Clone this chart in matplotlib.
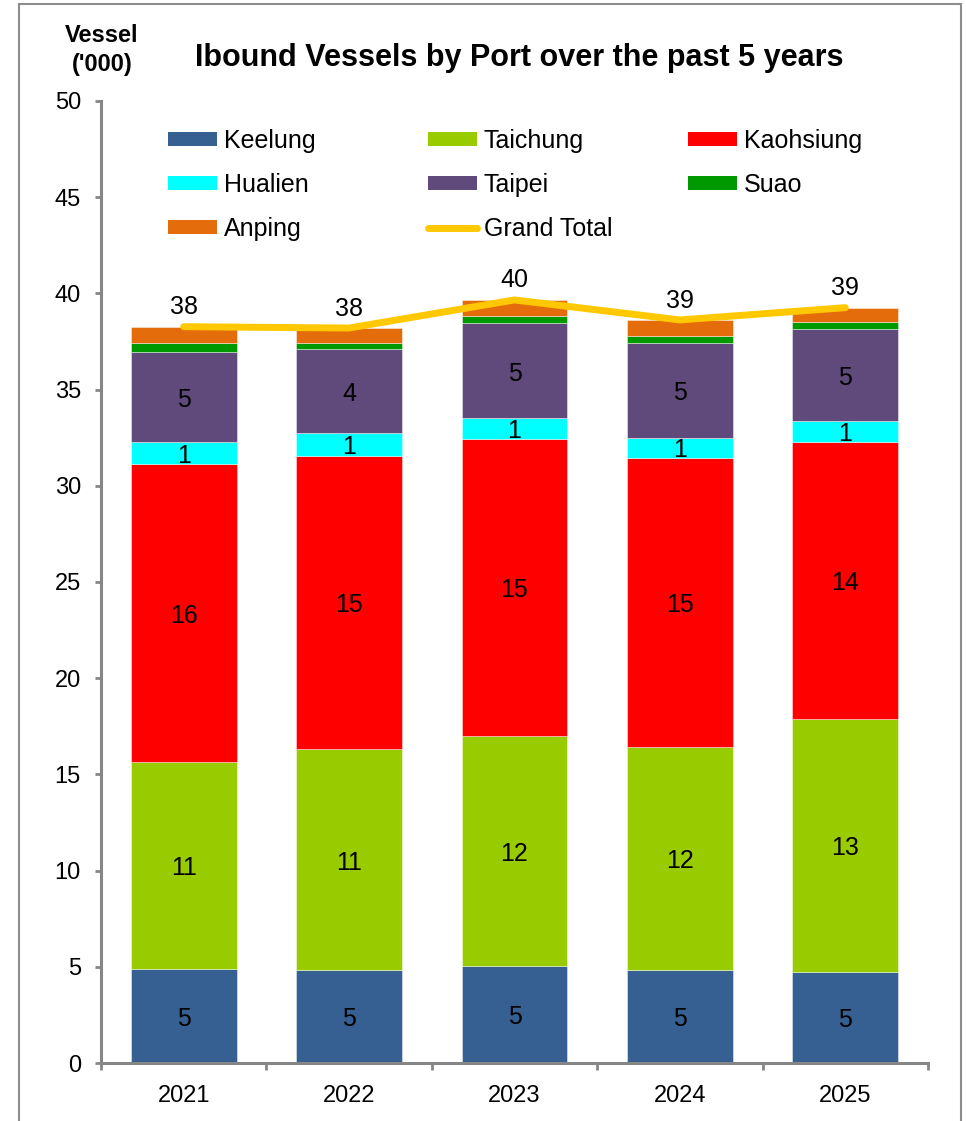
import matplotlib
matplotlib.use("Agg")
import matplotlib.pyplot as plt
from matplotlib.patches import Rectangle, Patch
from matplotlib.lines import Line2D
import numpy as np

plt.rcParams['font.family'] = ['Liberation Sans', 'DejaVu Sans']

years = ['2021', '2022', '2023', '2024', '2025']
keelung = [4.89, 4.83, 5.04, 4.85, 4.71]
taichung = [10.75, 11.47, 11.96, 11.59, 13.17]
kaohsiung = [15.51, 15.26, 15.43, 15.02, 14.41]
hualien = [1.11, 1.17, 1.08, 1.04, 1.08]
taipei = [4.71, 4.37, 4.94, 4.91, 4.78]
suao = [0.44, 0.34, 0.38, 0.38, 0.38]
anping = [0.86, 0.76, 0.83, 0.83, 0.73]
grand_total = [38.27, 38.20, 39.66, 38.62, 39.26]

series = [
    ('Keelung', keelung, '#366092', True),
    ('Taichung', taichung, '#99CC00', True),
    ('Kaohsiung', kaohsiung, '#FF0000', True),
    ('Hualien', hualien, '#00FFFF', True),
    ('Taipei', taipei, '#604A7B', True),
    ('Suao', suao, '#009900', False),
    ('Anping', anping, '#E46C0A', False),
]
line_color = '#FFC800'

W, H = 966, 1121
fig = plt.figure(figsize=(W / 100, H / 100), dpi=100)
ax = fig.add_axes([101 / W, 1 - 1063 / H, (928 - 101) / W, (1063 - 101) / H])

x = np.arange(len(years))
bottom = np.zeros(len(years))
handles = {}
for name, vals, color, lab in series:
    bars = ax.bar(x, vals, width=0.64, bottom=bottom, color=color,
                  edgecolor=(1, 1, 1, 0.5), linewidth=0.6, zorder=2)
    if lab:
        ax.bar_label(bars, labels=[f'{v:.0f}' for v in vals], label_type='center',
                     fontsize=18, color='black', padding=-2)
    bottom = bottom + np.array(vals)
    handles[name] = Patch(facecolor=color, edgecolor='none')

ax.plot(x, grand_total, color=line_color, lw=5, solid_capstyle='round',
        solid_joinstyle='round', zorder=3)
for xi, v in zip(x, grand_total):
    ax.annotate(f'{v:.0f}', (xi, v), xytext=(0, 14), textcoords='offset points',
                ha='center', va='center', fontsize=18, color='black', zorder=4)
handles['Grand Total'] = Line2D([], [], color=line_color, lw=5, solid_capstyle='round')

ax.set_xlim(-0.5, 4.5)
ax.set_ylim(0, 50)
ax.set_yticks(np.arange(0, 51, 5))
ax.set_xticks(x)
ax.set_xticklabels(years)
ax.set_xticks(np.arange(-0.5, 5, 1), minor=True)
for s in ['top', 'right']:
    ax.spines[s].set_visible(False)
for s in ['left', 'bottom']:
    ax.spines[s].set_color('#868686')
    ax.spines[s].set_linewidth(2.2)
ax.tick_params(axis='y', direction='out', length=4.5, width=2, color='#868686',
               labelsize=17, pad=10)
ax.tick_params(axis='x', which='major', length=0, labelsize=17, pad=16)
ax.tick_params(axis='x', which='minor', direction='out', length=5, width=2, color='#868686')
ax.set_facecolor('none')

fig.text(519.5 / W, 1 - 58 / H, 'Ibound Vessels by Port over the past 5 years',
         ha='center', va='center', fontsize=22, fontweight='bold')
fig.text(102 / W, 1 - 35 / H, 'Vessel', ha='center', va='center', fontsize=17, fontweight='bold')
fig.text(102 / W, 1 - 65 / H, "('000)", ha='center', va='center', fontsize=17, fontweight='bold')

cols = [
    (['Keelung', 'Hualien', 'Anping'], 168),
    (['Taichung', 'Taipei', 'Grand Total'], 428),
    (['Kaohsiung', 'Suao'], 688),
]
for names, xpx in cols:
    leg = fig.legend([handles[n] for n in names], names, loc='upper left',
                     bbox_to_anchor=(xpx / W, 1 - 129 / H), bbox_transform=fig.transFigure,
                     frameon=False, fontsize=18, borderpad=0, borderaxespad=0,
                     handlelength=1.96, handleheight=0.52, handletextpad=0.26,
                     labelspacing=0.80)

fig.patches.append(Rectangle((19 / W, -0.01), (961 - 19) / W, 1.01 - 4 / H,
                             transform=fig.transFigure, fill=False, edgecolor='#8c8c8c',
                             lw=1.5, zorder=0))

fig.savefig('out.png', dpi=100)
